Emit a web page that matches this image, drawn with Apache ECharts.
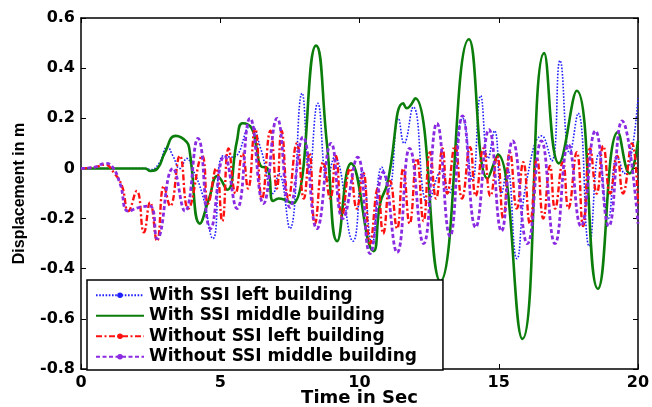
<!DOCTYPE html>
<html>
<head>
<meta charset="utf-8">
<script src="https://cdn.jsdelivr.net/npm/echarts@6/dist/echarts.min.js"></script>
<style>
  html, body { margin: 0; padding: 0; background: #fff; }
  #chart { width: 652px; height: 407px; }
</style>
</head>
<body>
<div id="chart"></div>
<script>
// Series names (legend)
const seriesNames = [
  'With SSI left building',
  'With SSI middle building',
  'Without SSI left building',
  'Without SSI middle building'
];

// Tick settings
const xTicks = [0, 5, 10, 15, 20];
const yTicks = [-0.8, -0.6, -0.4, -0.2, 0, 0.2, 0.4, 0.6];

// [time (s), displacement (m)] (turning points)
const withSsiLeft = [
  [0,0],[1,0],[2.3,0],[2.5,-0.005],[2.8,0.02],[3.1,0.085],[3.3,0.05],[3.55,0.0],[3.8,0.04],
  [4.0,0.0],[4.35,-0.1],[4.74,-0.28],[5.1,0.05],[5.45,0.045],[6.1,0.17],[6.45,0.08],
  [6.9,-0.1],[7.1,-0.02],[7.5,-0.24],[7.94,0.3],[8.2,-0.02],[8.5,0.26],[8.85,-0.05],
  [9.1,0.045],[9.77,-0.29],[10.1,-0.01],[10.45,-0.3],[10.8,0.005],[11.05,-0.08],[11.4,0.2],
  [11.6,0.1],[11.93,0.245],[12.46,-0.14],[12.95,-0.01],[13.2,-0.1],[13.7,0.2],[14.05,-0.05],
  [14.35,0.29],[14.62,0.04],[14.85,0.15],[15.1,-0.1],[15.3,0.0],[15.65,-0.36],[16.0,-0.05],
  [16.55,0.13],[16.9,0.03],[17.2,0.43],[17.55,0.06],[17.85,0.22],[18.25,-0.31],[18.6,0.06],
  [18.93,-0.2],[19.25,0.05],[19.5,-0.02],[20,0.28]
];

const withSsiMiddle = [
  [0,0],[1,0],[2,0],[2.3,0],[2.5,-0.01],[2.75,0.0],[3.0,0.06],[3.4,0.13],[3.8,0.105],
  [3.9,0.07],[4.27,-0.22],[4.6,-0.12],[4.9,-0.03],[5.25,-0.085],[5.6,0.11],[5.8,0.18],
  [6.13,0.16],[6.3,0.085],[6.45,0.01],[6.7,0.0],[6.9,-0.13],[7.1,-0.12],[7.6,-0.14],
  [8.44,0.49],[8.83,0.1],[9.2,-0.29],[9.7,0.02],[10.5,-0.33],[10.74,-0.14],[11.0,-0.06],
  [11.57,0.26],[11.7,0.24],[12.0,0.28],[12.9,-0.45],[13.93,0.515],[14.6,-0.04],[14.97,0.055],
  [15.85,-0.68],[16.63,0.46],[17.16,0.02],[17.8,0.31],[18.56,-0.48],[19.28,0.145],
  [19.7,-0.02],[20,0.11]
];

const withoutSsiLeft = [
  [0,0],[0.5,0.005],[0.85,0.015],[1.2,-0.02],[1.47,-0.07],[1.7,-0.17],[2.0,-0.09],[2.26,-0.255],
  [2.48,-0.135],[2.73,-0.29],[2.98,-0.07],[3.2,-0.15],[3.55,0.05],[3.85,-0.16],[4.35,0.05],
  [4.56,-0.14],[4.85,0.0],[5.07,-0.21],[5.3,0.08],[5.55,-0.1],[5.8,0.06],[6.0,-0.08],
  [6.25,0.16],[6.5,-0.12],[6.8,0.15],[7.03,-0.08],[7.2,0.15],[7.45,-0.12],[7.75,0.1],
  [8.0,-0.12],[8.2,0.06],[8.4,-0.22],[8.7,0.025],[8.95,-0.12],[9.15,0.05],[9.37,-0.19],
  [9.66,0.0],[9.9,-0.16],[10.13,-0.015],[10.38,-0.3],[10.66,-0.08],[10.85,-0.26],[11.1,-0.05],
  [11.35,-0.24],[11.57,0.0],[11.8,-0.22],[12.06,0.04],[12.3,-0.21],[12.53,0.065],[12.75,-0.12],
  [12.98,0.08],[13.15,-0.1],[13.43,0.09],[13.68,-0.12],[13.97,0.085],[14.17,-0.11],[14.45,0.08],
  [14.7,-0.11],[14.94,0.05],[15.16,-0.2],[15.4,0.065],[15.65,-0.16],[15.88,0.025],[16.12,-0.22],
  [16.37,0.04],[16.6,-0.2],[16.84,0.01],[17.02,-0.16],[17.3,0.025],[17.5,-0.16],[17.8,0.065],
  [18.03,-0.23],[18.28,0.08],[18.52,-0.1],[18.75,0.09],[19.0,-0.1],[19.25,0.05],[19.46,-0.1],
  [19.78,0.1],[20,-0.15]
];

const withoutSsiMiddle = [
  [0,0],[0.5,0.005],[0.86,0.02],[1.1,0.01],[1.4,-0.06],[1.7,-0.17],[2.1,-0.155],[2.48,-0.15],
  [2.73,-0.28],[3.3,0.0],[3.73,-0.17],[4.2,0.12],[4.65,-0.24],[5.15,0.05],[5.6,-0.16],
  [6.07,0.2],[6.55,-0.14],[7.04,0.2],[7.5,-0.155],[7.97,0.125],[8.47,-0.24],[8.98,0.1],
  [9.4,-0.2],[9.93,0.045],[10.38,-0.34],[10.85,-0.015],[11.35,-0.335],[11.8,0.08],[12.3,-0.3],
  [12.78,0.18],[13.25,-0.27],[13.7,0.21],[14.17,-0.235],[14.65,0.155],[15.1,-0.25],[15.5,0.11],
  [16.03,-0.3],[16.53,0.11],[17.02,-0.3],[17.5,0.095],[17.95,-0.23],[18.47,0.15],[18.95,-0.23],
  [19.43,0.19],[20,-0.22]
];

const chart = echarts.init(document.getElementById('chart'), null, { renderer: 'canvas' });

const tickFont = { fontFamily: 'DejaVu Sans', fontWeight: 'bold', fontSize: 16, color: '#000' };
const axisLineStyle = { color: '#000', width: 1.5 };

function frameAxis(base) {
  return Object.assign({
    type: 'value',
    axisLine: { show: true, onZero: false, lineStyle: axisLineStyle },
    axisTick: { show: true, inside: true, length: 5, lineStyle: { color: '#000', width: 1 } },
    splitLine: { show: false }
  }, base);
}

chart.setOption({
  animation: false,
  backgroundColor: '#fff',
  grid: { left: 81, right: 14, top: 18, bottom: 38, containLabel: false, outerBoundsMode: 'none' },
  xAxis: [
    frameAxis({
      min: xTicks[0], max: xTicks[xTicks.length - 1], interval: 5, position: 'bottom',
      axisLabel: Object.assign({ margin: 6 }, tickFont),
      name: 'Time in Sec', nameLocation: 'middle', nameGap: 20, nameMoveOverlap: false,
      nameTextStyle: { fontFamily: 'DejaVu Sans', fontWeight: 'bold', fontSize: 18, color: '#000' }
    }),
    frameAxis({
      min: xTicks[0], max: xTicks[xTicks.length - 1], interval: 5, position: 'top',
      axisLabel: { show: false }
    })
  ],
  yAxis: [
    frameAxis({
      min: yTicks[0], max: yTicks[yTicks.length - 1], interval: 0.2, position: 'left',
      axisLabel: Object.assign({ margin: 6, formatter: v => (Math.abs(v) < 1e-9 ? '0' : v.toFixed(1)) }, tickFont),
      name: 'Displacement in m', nameLocation: 'middle', nameGap: 53, nameRotate: 90, nameMoveOverlap: false,
      nameTextStyle: { fontFamily: 'Liberation Sans', fontWeight: 'bold', fontSize: 16, color: '#000' }
    }),
    frameAxis({
      min: yTicks[0], max: yTicks[yTicks.length - 1], interval: 0.2, position: 'right',
      axisLabel: { show: false }
    })
  ],
  legend: {
    orient: 'vertical',
    left: 87, top: 280,
    padding: [5, 26, 3, 8],
    itemWidth: 48, itemHeight: 7, itemGap: 0,
    backgroundColor: '#fff',
    borderColor: '#000', borderWidth: 1.5, borderRadius: 0,
    textStyle: { fontFamily: 'DejaVu Sans', fontWeight: 'bold', fontSize: 17, color: '#000', lineHeight: 20.5 },
    data: [
      { name: seriesNames[0] },
      { name: seriesNames[1], itemStyle: { opacity: 0 } },
      { name: seriesNames[2] },
      { name: seriesNames[3] }
    ]
  },
  series: [
    {
      name: seriesNames[0], type: 'line', data: withSsiLeft, smooth: 0.5,
      symbol: 'circle', symbolSize: 5, showSymbol: false,
      itemStyle: { color: '#1f1fff' },
      lineStyle: { color: '#1f1fff', width: 1.6, type: [1.6, 1.6] }
    },
    {
      name: seriesNames[1], type: 'line', data: withSsiMiddle, smooth: 0.5,
      symbol: 'none',
      itemStyle: { color: '#0a7d0a' },
      lineStyle: { color: '#0a7d0a', width: 2.6, type: 'solid' }
    },
    {
      name: seriesNames[2], type: 'line', data: withoutSsiLeft, smooth: 0.5,
      symbol: 'circle', symbolSize: 5, showSymbol: false,
      itemStyle: { color: '#ff1010' },
      lineStyle: { color: '#ff1010', width: 2.4, type: [6, 2.5, 2, 2.5] }
    },
    {
      name: seriesNames[3], type: 'line', data: withoutSsiMiddle, smooth: 0.5,
      symbol: 'circle', symbolSize: 5, showSymbol: false,
      itemStyle: { color: '#8a2be2' },
      lineStyle: { color: '#8a2be2', width: 2.8, type: [4, 2.5] }
    }
  ]
});
</script>
</body>
</html>
